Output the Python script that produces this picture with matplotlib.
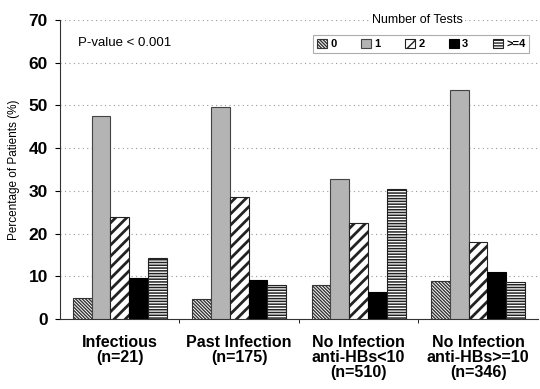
import numpy as np
import matplotlib.pyplot as plt
from matplotlib.patches import Patch

plt.rcParams['font.family'] = ['Liberation Sans', 'DejaVu Sans']

groups = ['Infectious\n(n=21)', 'Past Infection\n(n=175)',
          'No Infection\nanti-HBs<10\n(n=510)', 'No Infection\nanti-HBs>=10\n(n=346)']
tests = ['0', '1', '2', '3', '>=4']
pct = np.array([
    [4.8, 47.6, 23.8, 9.5, 14.3],
    [4.6, 49.7, 28.6, 9.1, 8.0],
    [8.0, 32.7, 22.5, 6.3, 30.4],
    [9.0, 53.5, 17.9, 11.0, 8.7],
])

# style per number of tests
faces = ['white', '#b4b4b4', 'white', 'black', 'white']
hatches = ['\\' * 10, None, '///', None, '------']
hlw = [1.0, 1.0, 2.0, 1.0, 1.1]
edges = ['#333333', '#444444', '#222222', 'black', '#222222']

fig = plt.figure(figsize=(5.4, 3.89), dpi=100)
ax = fig.add_axes([0.111, 0.18, 0.885, 0.769])

x = np.arange(len(groups))
w = 0.157
handles = []
for i in range(len(tests)):
    bars = ax.bar(x + (i - 2) * w, pct[:, i], w, color=faces[i],
                  edgecolor=edges[i], hatch=hatches[i], linewidth=0.8, zorder=3)
    for b in bars:
        try:
            b.set_hatch_linewidth(hlw[i])
        except AttributeError:
            pass
    h = Patch(facecolor=faces[i], edgecolor=edges[i], hatch=hatches[i], linewidth=0.8)
    handles.append(h)

ax.set_xlim(-0.5, 3.5)
ax.set_ylim(0, 70)
ax.set_yticks(range(0, 71, 10))
ax.tick_params(axis='y', labelsize=12.5, length=3.6, width=0.8, pad=5)
for t in ax.get_yticklabels():
    t.set_fontweight('bold')
ax.set_xticks([0.5, 1.5, 2.5], minor=False)
ax.set_xticklabels([])
ax.tick_params(axis='x', length=3, width=0.6)
for xi, g in zip(x, groups):
    ax.text(xi, -3.8, g, ha='center', va='top', fontsize=11.5, fontweight='bold',
            linespacing=1.0)

ax.set_ylabel('Percentage of Patients (%)', fontsize=8.5, labelpad=6)
ax.yaxis.grid(True, linestyle=(0, (1, 3)), color='#999999', linewidth=0.8, zorder=0)
ax.spines['top'].set_visible(False)
ax.spines['right'].set_visible(False)
ax.spines['left'].set_color('#333333')
ax.spines['bottom'].set_color('#333333')

ax.text(-0.35, 64.5, 'P-value < 0.001', fontsize=9.5, va='center')

leg = ax.legend(handles, tests, ncol=5, loc='upper left',
                bbox_to_anchor=(313 / 540, 1 - 35 / 389), bbox_transform=fig.transFigure,
                borderaxespad=0, frameon=True, fancybox=False, edgecolor='#999999',
                handlelength=0.9, handleheight=0.9, handletextpad=0.3,
                columnspacing=2.2, borderpad=0.35, prop={'weight': 'bold', 'size': 8})
leg.get_frame().set_linewidth(0.8)
ax.text(2.49, 70, 'Number of Tests', ha='center', va='center', fontsize=9,
        bbox=dict(facecolor='white', edgecolor='none', pad=1.5), zorder=5)

fig.savefig('out.png', dpi=100)
